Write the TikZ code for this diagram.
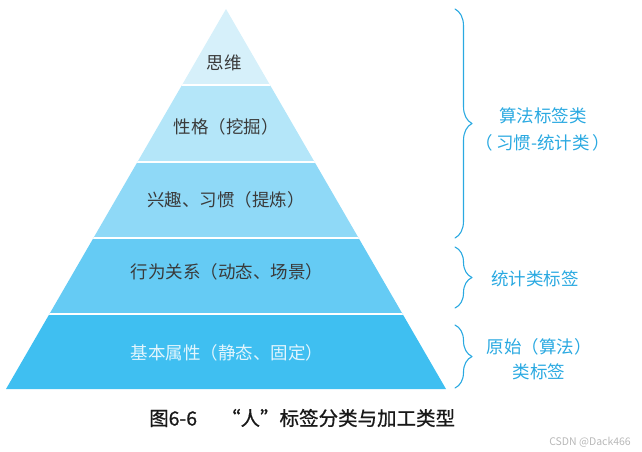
\documentclass[tikz,border=0pt]{standalone}
\usepackage{fontspec}
\setmainfont{Noto Sans CJK SC}
\newfontfamily\capfont[FakeBold=0.8]{Noto Sans CJK SC}
\usepackage{tikz}
\usetikzlibrary{decorations.pathreplacing}
\definecolor{layerA}{HTML}{D6F0FA}
\definecolor{layerB}{HTML}{B4E6F9}
\definecolor{layerC}{HTML}{8FD9F7}
\definecolor{layerD}{HTML}{65CBF4}
\definecolor{layerE}{HTML}{3FBFF1}
\definecolor{layertext}{HTML}{3A3A3A}
\definecolor{bracecol}{HTML}{2AA9E1}
\tikzset{
  layerlabel/.style={font=\fontsize{17.5}{20}\selectfont,text=layertext,inner sep=0pt},
  sidelabel/.style={font=\fontsize{17.5}{27}\selectfont,text=bracecol,align=center,inner sep=0pt},
  sidebrace/.style={bracecol,line width=1.1pt,decorate,decoration={brace,amplitude=17pt}}
}
\begin{document}
\begin{tikzpicture}[x=1pt,y=-1pt,line cap=round,line join=round]
 \useasboundingbox (0,0) rectangle (642,451);
 \coordinate (top) at (226,9); \coordinate (bl) at (6,389);
 \coordinate (br) at (446,389);
 % pyramid layers
 \begin{scope}
  \clip (top)--(br)--(bl)--cycle;
  \fill[layerA] (0,0) rectangle (450,85);
  \fill[layerB] (0,85) rectangle (450,162);
  \fill[layerC] (0,162) rectangle (450,238);
  \fill[layerD] (0,238) rectangle (450,314);
  \fill[layerE] (0,314) rectangle (450,390);
  \foreach \y in {85,162,238,314}{\draw[white,line width=2.4pt] (0,\y)--(450,\y);}
 \end{scope}
 \node[layerlabel] (think) at (224,63) {思维};
 \node[layerlabel] (trait) at (226,127) {性格（挖掘）};
 \node[layerlabel] (habit) at (226,200) {兴趣、习惯（提炼）};
 \node[layerlabel] (act) at (227,272) {行为关系（动态、场景）};
 \node[layerlabel,text=white!85!layerE] (basic) at (227,353) {基本属性（静态、固定）};
 % braces
 \coordinate (b1s) at (455,9); \coordinate (b1e) at (455,238);
 \coordinate (b2s) at (455,247); \coordinate (b2e) at (455,308);
 \coordinate (b3s) at (455,325); \coordinate (b3e) at (455,388);
 \draw[sidebrace] (b1s)--(b1e);
 \draw[sidebrace] (b2s)--(b2e);
 \draw[sidebrace] (b3s)--(b3e);
 \node[sidelabel] (algo) at (543,129) {算法标签类\\（\,习惯-统计类\,）};
 \node[sidelabel] (stat) at (535,279) {统计类标签};
 \node[sidelabel,font=\fontsize{17.5}{25}\selectfont] (raw) at (539,359)
  {原始（算法）\\类标签};
 % caption
 \node[anchor=west,inner sep=0pt,font=\capfont\fontsize{19.5}{22}\selectfont,text=black!90]
  (cap) at (149,418) {图6-6\hspace{24pt}“人”标签分类与加工类型};
 \node[anchor=east,inner sep=0pt,font=\fontsize{10.5}{12}\selectfont,text=black!28]
  (mark) at (631,442) {CSDN @Dack466};
\end{tikzpicture}
\end{document}
